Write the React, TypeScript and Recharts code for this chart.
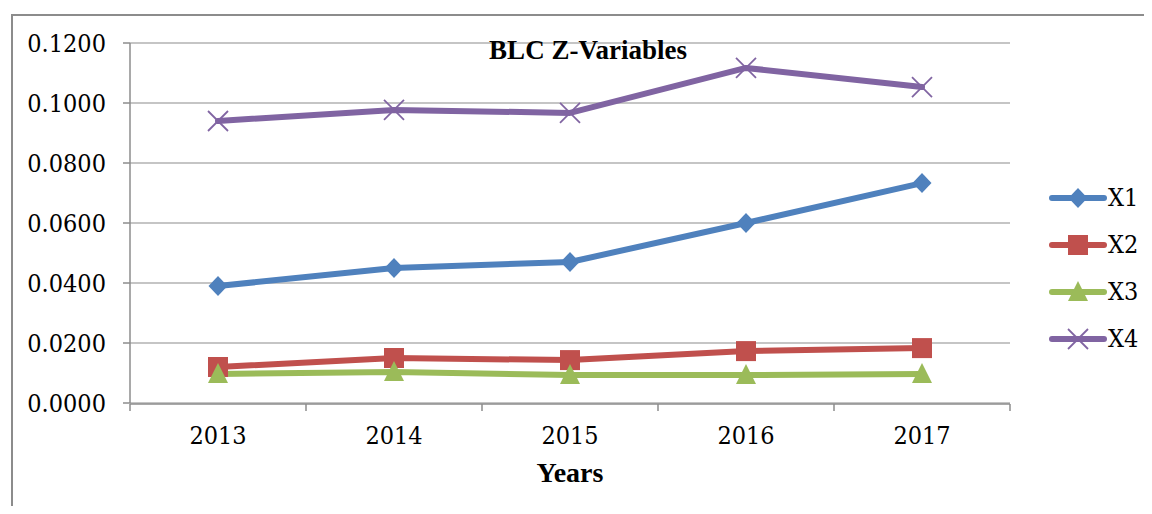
import React from 'react';
import { LineChart, Line, XAxis, YAxis, CartesianGrid } from 'recharts';

const years = ['2013', '2014', '2015', '2016', '2017'];
const x1 = [0.039, 0.045, 0.047, 0.06, 0.0733];
const x2 = [0.012, 0.015, 0.0143, 0.0173, 0.0183];
const x3 = [0.0097, 0.0103, 0.0093, 0.0093, 0.0097];
const x4 = [0.094, 0.0977, 0.0967, 0.1117, 0.1053];
const yTicks = [0, 0.02, 0.04, 0.06, 0.08, 0.1, 0.12];
const edgeTicks = [0, 1, 2, 3, 4, 5];

const data = years.map((year, i) => ({ year, X1: x1[i], X2: x2[i], X3: x3[i], X4: x4[i] }));

const GRID = '#8c8c8c';
const TICK_FONT = "'DejaVu Serif', serif";

type Shape = 'diamond' | 'square' | 'triangle' | 'cross';

const Marker = ({ cx, cy, color, shape }: { cx: number; cy: number; color: string; shape: Shape }) => {
  if (cx == null || cy == null) return null;
  if (shape === 'diamond') {
    return <path d={`M${cx},${cy - 10}L${cx + 9.5},${cy}L${cx},${cy + 10}L${cx - 9.5},${cy}Z`} fill={color} />;
  }
  if (shape === 'square') {
    return <rect x={cx - 10} y={cy - 10} width={20} height={20} fill={color} />;
  }
  if (shape === 'triangle') {
    return <path d={`M${cx},${cy - 11}L${cx + 10},${cy + 9}L${cx - 10},${cy + 9}Z`} fill={color} />;
  }
  return (
    <g stroke={color} strokeWidth={1.8}>
      <line x1={cx - 10} y1={cy - 10} x2={cx + 10} y2={cy + 10} />
      <line x1={cx - 10} y1={cy + 10} x2={cx + 10} y2={cy - 10} />
    </g>
  );
};

const series: { key: string; color: string; shape: Shape }[] = [
  { key: 'X1', color: '#4F81BD', shape: 'diamond' },
  { key: 'X2', color: '#C0504D', shape: 'square' },
  { key: 'X3', color: '#9BBB59', shape: 'triangle' },
  { key: 'X4', color: '#8064A2', shape: 'cross' },
];

const tickStyle = { fill: '#000', fontSize: 25, fontFamily: TICK_FONT, fontStretch: 'condensed' } as any;

export default function App() {
  return (
    <div style={{ position: 'relative', width: 1152, height: 514, margin: -8, overflow: 'hidden', background: '#fff' }}>
      <div style={{ position: 'absolute', left: 11, top: 14, width: 1300, height: 600, border: `2px solid ${GRID}` }} />
      <div style={{ position: 'absolute', left: 0, top: 0 }}>
        <LineChart width={1152} height={514} data={data} margin={{ top: 43, right: 142, bottom: 109, left: 30 }}>
          <CartesianGrid vertical={false} stroke={GRID} strokeWidth={1.2} />
          <XAxis
            xAxisId="edge"
            type="number"
            dataKey={() => 0}
            domain={[0, 5]}
            ticks={edgeTicks}
            allowDataOverflow
            height={1}
            tickSize={7}
            tickFormatter={() => ''}
            stroke={GRID}
            tickLine={{ stroke: GRID, strokeWidth: 1.5 }}
            axisLine={{ stroke: GRID, strokeWidth: 1.5 }}
          />
          <XAxis
            dataKey="year"
            scale="point"
            padding={{ left: 88, right: 88 }}
            height={1}
            axisLine={false}
            tickLine={false}
            tickSize={7}
            tickMargin={16}
            tick={tickStyle}
          />
          <YAxis
            width={100}
            domain={[0, 0.12]}
            ticks={yTicks}
            tickFormatter={(v: number) => v.toFixed(4)}
            tickSize={7}
            tickMargin={17}
            tick={tickStyle}
            axisLine={{ stroke: GRID, strokeWidth: 1.5 }}
            tickLine={{ stroke: GRID, strokeWidth: 1.5 }}
          />
          {series.map((s) => (
            <Line
              key={s.key}
              dataKey={s.key}
              stroke={s.color}
              strokeWidth={6}
              strokeLinecap="round"
              strokeLinejoin="round"
              isAnimationActive={false}
              dot={(p: any) => <Marker key={`${s.key}-${p.index}`} cx={p.cx} cy={p.cy} color={s.color} shape={s.shape} />}
              activeDot={false}
            />
          ))}
        </LineChart>
      </div>
      <div
        style={{
          position: 'absolute', left: 388, width: 400, top: 37, textAlign: 'center',
          fontFamily: "'Liberation Serif', serif", fontWeight: 'bold', fontSize: 27, lineHeight: '27px',
        }}
      >
        BLC Z-Variables
      </div>
      <div
        style={{
          position: 'absolute', left: 370, width: 400, top: 459, textAlign: 'center',
          fontFamily: "'Liberation Serif', serif", fontWeight: 'bold', fontSize: 28, lineHeight: '28px',
        }}
      >
        Years
      </div>
      <div style={{ position: 'absolute', left: 1048, top: 174 }}>
        {series.map((s) => (
          <div key={s.key} style={{ display: 'flex', alignItems: 'center', height: 47 }}>
            <svg width={60} height={24}>
              <line x1={4} y1={12} x2={56} y2={12} stroke={s.color} strokeWidth={6} strokeLinecap="round" />
              <Marker cx={30} cy={12} color={s.color} shape={s.shape} />
            </svg>
            <span style={{ fontFamily: TICK_FONT, fontStretch: 'condensed', fontSize: 25 }}>{s.key}</span>
          </div>
        ))}
      </div>
    </div>
  );
}
